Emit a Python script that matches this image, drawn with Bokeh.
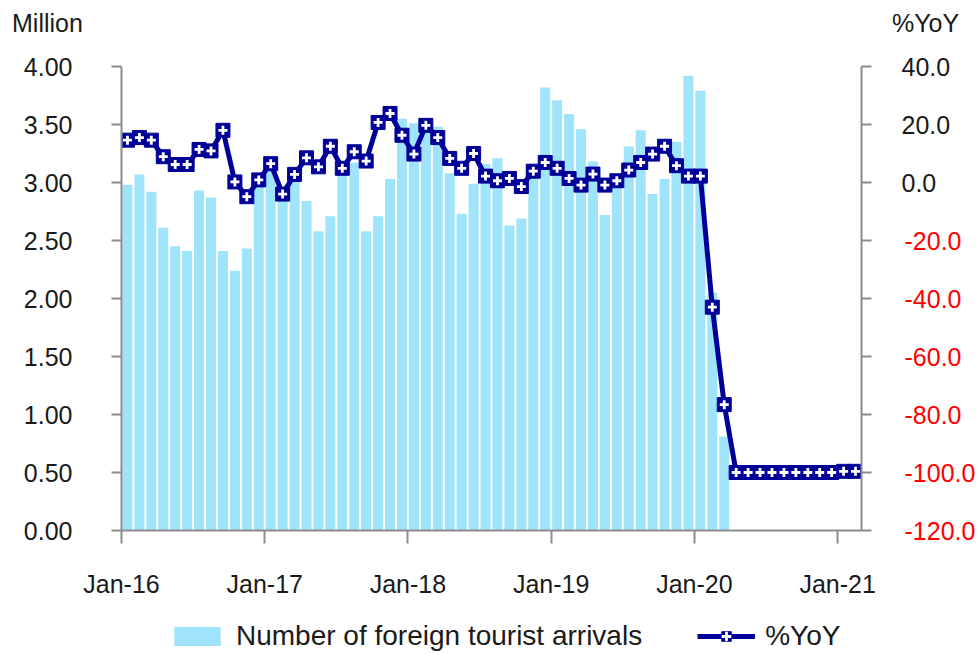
from bokeh.plotting import figure
from bokeh.layouts import column
from bokeh.models import (Range1d, LinearAxis, FixedTicker, NumeralTickFormatter,
                          ColumnDataSource, Legend, LegendItem, Div)
from bokeh.embed import file_html
from bokeh.resources import INLINE

# ---------------- data ----------------
# months from Jan-16 to Feb-21 (62 months)
n_months = 62
x_tick_pos = [0, 12, 24, 36, 48, 60]
x_tick_labels = ["Jan-16", "Jan-17", "Jan-18", "Jan-19", "Jan-20", "Jan-21"]

# Number of foreign tourist arrivals (million), Jan-16 .. Mar-20
arrivals = [2.98, 3.07, 2.92, 2.61, 2.45, 2.41, 2.93, 2.87, 2.41, 2.24, 2.43, 3.00,
            3.11, 2.87, 3.02, 2.84, 2.58, 2.71, 3.08, 3.17, 2.58, 2.71, 3.03, 3.55,
            3.51, 3.49, 3.48, 3.08, 2.73, 2.99, 3.16, 3.21, 2.63, 2.69, 3.15, 3.82,
            3.71, 3.59, 3.46, 3.18, 2.72, 2.98, 3.31, 3.45, 2.90, 3.03, 3.35, 3.92,
            3.79, 2.05, 0.81]

# %YoY, Jan-16 .. Feb-21
yoy = [14.6, 15.5, 14.6, 8.9, 6.2, 6.2, 11.4, 10.9, 18.0, 0.2, -4.9, 0.9,
       6.5, -4.0, 2.8, 8.5, 5.4, 12.5, 4.9, 10.6, 7.4, 20.7, 23.8, 16.3,
       9.8, 19.7, 15.5, 8.3, 4.9, 10.0, 2.2, 0.6, 1.4, -1.4, 3.9, 6.9,
       4.9, 1.4, -0.9, 2.9, -0.9, 0.6, 4.3, 6.9, 9.8, 12.5, 5.8, 2.2,
       2.2, -43.0, -76.6, -100.0, -100.0, -100.0, -100.0, -100.0, -100.0, -100.0, -100.0, -100.0,
       -99.6, -99.6]

left_ticks = [0.0, 0.5, 1.0, 1.5, 2.0, 2.5, 3.0, 3.5, 4.0]
right_ticks = [40, 20, 0, -20, -40, -60, -80, -100, -120]
right_tick_labels = ["40.0", "20.0", "0.0", "-20.0", "-40.0", "-60.0", "-80.0", "-100.0", "-120.0"]

bar_label = "Number of foreign tourist arrivals"
line_label = "%YoY"
left_unit = "Million"
right_unit = "%YoY"

# ---------------- styling ----------------
FONT = "Liberation Sans"
TXT = "#1a1a1a"
RED = "#ff0000"
AXIS = "#8c8c8c"
BAR = "#9fe4fa"
NAVY = "#000099"
W = 978


def bare(fig):
    fig.outline_line_color = None
    fig.xgrid.grid_line_color = None
    fig.ygrid.grid_line_color = None
    return fig


def bar_glyph(fig, src, **kw):
    return fig.vbar(x="x", top="top", width=0.84, bottom=0, source=src,
                    fill_color=BAR, line_color=None, **kw)


def line_glyphs(fig, src, **kw):
    ln = fig.line("x", "y", source=src, line_color=NAVY, line_width=5, **kw)
    sq = fig.scatter("x", "y", source=src, marker="square", size=14,
                     fill_color=NAVY, line_color=NAVY, line_width=1, **kw)
    cr = fig.scatter("x", "y", source=src, marker="cross", size=9,
                     line_color="white", line_width=2.8, **kw)
    return [ln, sq, cr]


# ---------------- header with axis units ----------------
span = ("position:absolute;top:9px;line-height:29px;font-family:'Liberation Sans';"
        "font-size:25px;color:%s;white-space:nowrap;" % TXT)
head = Div(width=W, height=48, margin=0,
           text=('<div style="position:relative;width:%dpx;height:48px;">'
                 '<span style="%sleft:12px;">%s</span>'
                 '<span style="%sleft:892px;">%s</span></div>'
                 % (W, span, left_unit, span, right_unit)))

# ---------------- main chart ----------------
p = bare(figure(width=W, height=552, output_backend="svg", toolbar_location=None,
                x_range=Range1d(0, n_months), y_range=Range1d(0, 4),
                min_border_left=121, min_border_right=116, min_border_top=18, min_border_bottom=68))
p.extra_y_ranges = {"yoy": Range1d(-120, 40)}

bar_src = ColumnDataSource(dict(x=[i + 0.5 for i in range(len(arrivals))], top=arrivals))
bar_glyph(p, bar_src)
line_src = ColumnDataSource(dict(x=[i + 0.5 for i in range(len(yoy))], y=yoy))
line_glyphs(p, line_src, y_range_name="yoy")


def style_axis(ax, tick_out, standoff):
    ax.minor_tick_line_color = None
    ax.major_tick_in = 0
    ax.major_tick_out = tick_out
    ax.major_label_standoff = standoff
    ax.axis_line_color = AXIS
    ax.axis_line_width = 2
    ax.major_tick_line_color = AXIS
    ax.major_tick_line_width = 2
    ax.major_label_text_font = FONT
    ax.major_label_text_font_size = "25px"
    ax.major_label_text_color = TXT


xa = p.xaxis[0]
xa.ticker = FixedTicker(ticks=x_tick_pos)
xa.major_label_overrides = {t: l for t, l in zip(x_tick_pos, x_tick_labels)}
style_axis(xa, 13, 26)

ya = p.yaxis[0]
ya.ticker = FixedTicker(ticks=left_ticks)
ya.formatter = NumeralTickFormatter(format="0.00")
style_axis(ya, 10, 39)

# right axis: black labels for non-negative ticks
ra = LinearAxis(y_range_name="yoy", ticker=FixedTicker(ticks=right_ticks))
style_axis(ra, 10, 30)
ra.major_label_overrides = {t: (l if t >= 0 else "") for t, l in zip(right_ticks, right_tick_labels)}
p.add_layout(ra, "right")

# second right axis with the red negative labels, pulled back over the first one
rb = LinearAxis(y_range_name="yoy", ticker=FixedTicker(ticks=right_ticks))
style_axis(rb, 0, -49)
rb.axis_line_color = None
rb.major_tick_line_color = None
rb.major_label_text_color = RED
rb.major_label_overrides = {t: (l if t < 0 else "") for t, l in zip(right_ticks, right_tick_labels)}
p.add_layout(rb, "right")

# ---------------- legend strip (same data, renderers hidden) ----------------
leg = bare(figure(width=W, height=52, output_backend="svg", toolbar_location=None,
                  x_range=Range1d(0, n_months), y_range=Range1d(0, 4),
                  x_axis_type=None, y_axis_type=None, min_border=0))
lb = bar_glyph(leg, bar_src, visible=False)
ll = line_glyphs(leg, line_src, visible=False)
legend = Legend(items=[LegendItem(label=bar_label, renderers=[lb]),
                       LegendItem(label=line_label, renderers=ll)],
                orientation="horizontal", location=(47, 0),
                border_line_color=None, background_fill_alpha=0,
                inactive_fill_alpha=0,
                glyph_width=58, glyph_height=24, label_standoff=10, spacing=55,
                padding=0, margin=0, label_text_font=FONT, label_text_font_size="28px",
                label_text_color=TXT)
leg.add_layout(legend)

open("out.html", "w").write(file_html(column(head, p, leg, spacing=0), INLINE))
